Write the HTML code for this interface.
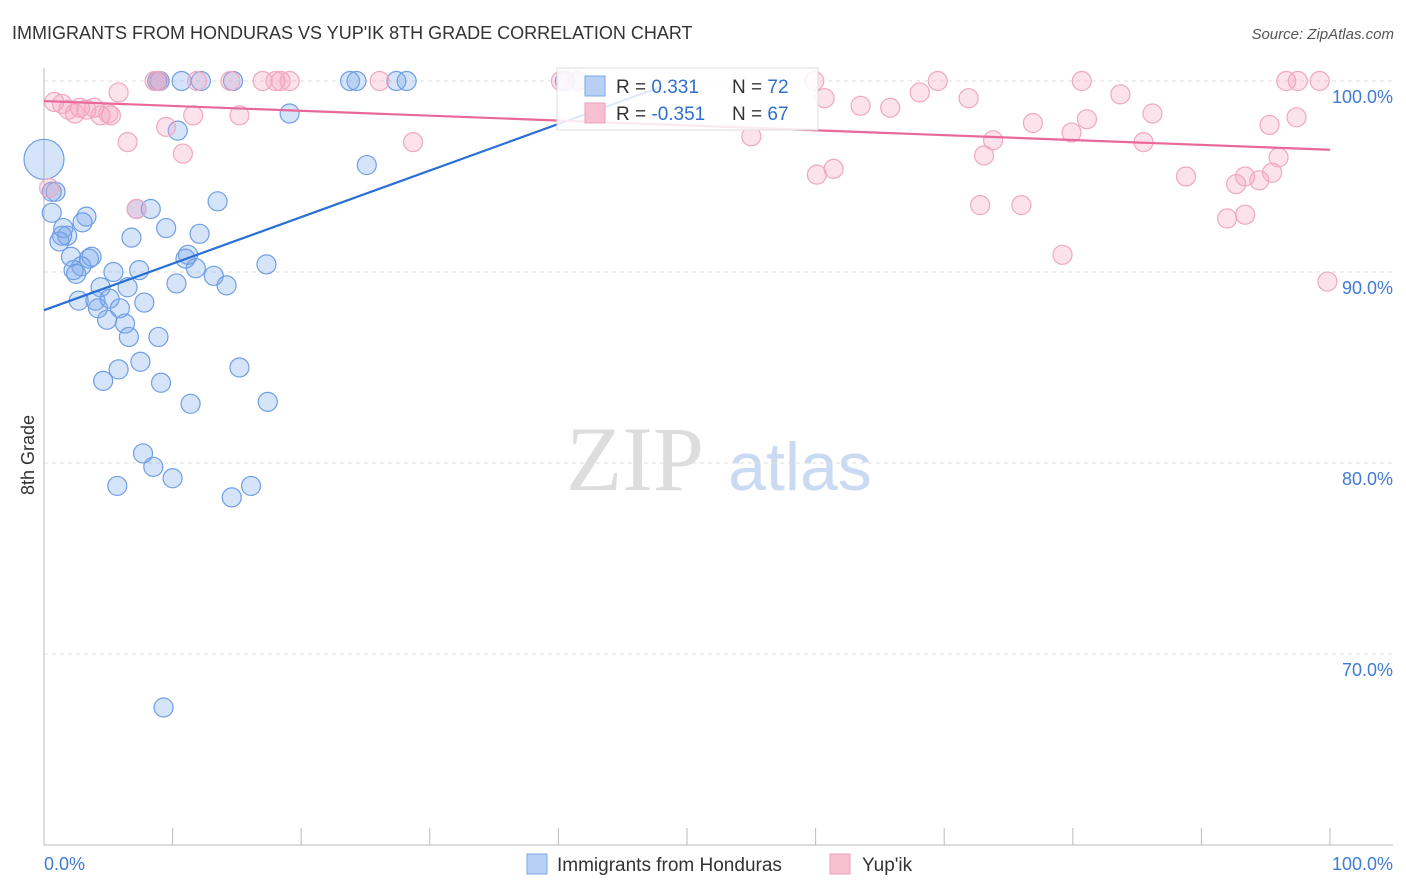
<!DOCTYPE html>
<html><head><meta charset="utf-8">
<style>
body{margin:0;background:#fff;font-family:"Liberation Sans",sans-serif;}
svg{display:block}
</style></head>
<body>
<svg id="chart" width="1406" height="892">
<text x="12" y="39" font-size="18" fill="#333">IMMIGRANTS FROM HONDURAS VS YUP'IK 8TH GRADE CORRELATION CHART</text>
<text x="1394" y="39" font-size="15" fill="#555" font-style="italic" text-anchor="end">Source: ZipAtlas.com</text>
<text x="34" y="455" font-size="18" fill="#333" transform="rotate(-90 34 455)" text-anchor="middle">8th Grade</text>
<g>
<text x="635" y="490" font-size="92" fill="#ddd" font-family="Liberation Serif, serif" text-anchor="middle">ZIP</text>
<text x="800" y="490" font-size="68" fill="#c9daf2" text-anchor="middle">atlas</text>
</g>
<g id="grid"></g>
<g id="axes"></g>
<g id="pts"></g>
<g id="lines"></g>
<g>
<rect x="557" y="68" width="261" height="62" fill="rgba(255,255,255,0.85)" stroke="#ddd"/>
<rect x="585" y="76" width="20" height="20" fill="#b7d0f3" stroke="#7aa7e6"/>
<rect x="585" y="103" width="20" height="20" fill="#f7c0d1" stroke="#eea0b8"/>
<text x="616" y="93" font-size="19" fill="#333">R = <tspan fill="#2f6fd0"> 0.331</tspan><tspan x="732">N = </tspan><tspan fill="#2f6fd0">72</tspan></text>
<text x="616" y="120" font-size="19" fill="#333">R = <tspan fill="#2f6fd0">-0.351</tspan><tspan x="732">N = </tspan><tspan fill="#2f6fd0">67</tspan></text>
</g>
<g>
<rect x="527" y="854" width="20" height="20" fill="#b7d0f3" stroke="#7aa7e6"/>
<text x="557" y="871" font-size="19" fill="#333">Immigrants from Honduras</text>
<rect x="830" y="854" width="20" height="20" fill="#f7c0d1" stroke="#eea0b8"/>
<text x="862" y="871" font-size="19" fill="#333">Yup'ik</text>
</g>
</svg>
<script>
const yTicks=[100,90,80,70];
const yTickLabels=["100.0%","90.0%","80.0%","70.0%"];
const xTicks=[0,10,20,30,40,50,60,70,80,90,100];
const xEndLabels=["0.0%","100.0%"];
const blueX=[0,0.6,0.9,0.6,3.3,3.0,1.5,1.8,1.4,1.2,2.1,3.7,3.5,2.9,2.3,2.5,5.4,7.4,4.4,6.5,2.7,4.0,5.1,4.2,5.9,7.8,4.9,6.3,6.6,8.9,7.5,4.6,5.8,9.1,11.4,15.2,17.4,7.7,8.5,5.7,10.0,14.6,16.1,9.3,10.4,19.1,25.1,13.5,7.2,8.3,6.8,9.5,12.1,11.2,11.0,11.8,13.2,10.3,14.2,17.3,8.8,9.0,10.7,12.2,14.7,23.8,24.3,27.4,28.2,40.5,41.5];
const blueY=[95.9,94.2,94.2,93.1,92.9,92.6,92.3,91.9,91.9,91.6,90.8,90.8,90.7,90.3,90.1,89.9,90.0,90.1,89.2,89.2,88.5,88.5,88.6,88.1,88.1,88.4,87.5,87.3,86.6,86.6,85.3,84.3,84.9,84.2,83.1,85.0,83.2,80.5,79.8,78.8,79.2,78.2,78.8,67.2,97.4,98.3,95.6,93.7,93.3,93.3,91.8,92.3,92.0,90.9,90.7,90.2,89.8,89.4,89.3,90.4,100,100,100,100,100,100,100,100,100,100,100];
const pinkX=[8.6,8.9,11.9,14.5,17.0,18.0,18.4,19.1,26.1,40.2,41.5,5.8,0.8,1.4,1.9,2.8,3.3,3.9,2.4,4.4,5.2,5.0,11.6,15.2,9.5,6.5,10.8,28.7,0.4,7.2,59.9,60.7,63.5,65.8,68.1,69.5,71.9,55.0,60.1,61.4,73.1,73.8,72.8,76.0,76.9,79.9,81.1,80.7,83.7,86.2,85.5,79.2,88.8,92.0,93.4,92.7,93.4,94.5,95.5,96.0,95.3,97.4,96.6,97.5,99.2,99.8];
const pinkY=[100,100,100,100,100,100,100,100,100,100,100,99.4,98.9,98.8,98.5,98.6,98.5,98.6,98.3,98.2,98.2,98.3,98.2,98.2,97.6,96.8,96.2,96.8,94.4,93.3,100,99.1,98.7,98.6,99.4,100,99.1,97.1,95.1,95.4,96.1,96.9,93.5,93.5,97.8,97.3,98.0,100,99.3,98.3,96.8,90.9,95.0,92.8,93.0,94.6,95.0,94.8,95.2,96.0,97.7,98.1,100,100,100,89.5];
const blueTrend=[[0,88.0],[48,99.7]];
const pinkTrend=[[0,98.95],[100,96.4]];
const NS="http://www.w3.org/2000/svg";
const X0=44,X1=1330,YT=81,YB=845;
function sx(v){return X0+(X1-X0)*v/100;}
function sy(v){return YT+(YB-YT)*(100-v)/40;}
function mk(t,a,p){const e=document.createElementNS(NS,t);for(const k in a)e.setAttribute(k,a[k]);p.appendChild(e);return e;}
const grid=document.getElementById('grid'),axes=document.getElementById('axes'),pts=document.getElementById('pts'),lines=document.getElementById('lines');
yTicks.forEach((v,i)=>{
 const l=mk('line',{x1:X0,x2:1393,y1:sy(v),y2:sy(v),stroke:'#ddd','stroke-dasharray':'4 4'},grid);
 
 
 const t=mk('text',{x:1393,y:sy(v)+22,'font-size':18,fill:'#3f7bd6','text-anchor':'end'},axes);
 t.textContent=yTickLabels[i];
 
 
});
const ya=mk('line',{x1:X0,x2:X0,y1:68,y2:YB,stroke:'#bbb'},axes);


const xa=mk('line',{x1:X0,x2:1393,y1:YB,y2:YB,stroke:'#bbb'},axes);


xTicks.forEach(v=>{
 const t=mk('line',{x1:sx(v),x2:sx(v),y1:828,y2:YB,stroke:'#bbb'},axes);
 
 
});
[[0,'start',44],[100,'end',1393]].forEach((d,i)=>{
 const t=mk('text',{x:d[2],y:870,'font-size':18,fill:'#3f7bd6','text-anchor':d[1]},axes);
 t.textContent=xEndLabels[i];
 
 
});
blueX.forEach((v,i)=>{
 const c=mk('circle',{cx:sx(v),cy:sy(blueY[i]),r:i===0?20:9.5,fill:'rgba(120,165,235,0.3)',stroke:'#6f9fe3','stroke-width':1.2},pts);
 
 
});
pinkX.forEach((v,i)=>{
 const c=mk('circle',{cx:sx(v),cy:sy(pinkY[i]),r:9.5,fill:'rgba(245,160,190,0.3)',stroke:'#f0a8c0','stroke-width':1.2},pts);
 
 
});
const bl=mk('line',{x1:sx(blueTrend[0][0]),y1:sy(blueTrend[0][1]),x2:sx(blueTrend[1][0]),y2:sy(blueTrend[1][1]),stroke:'#2a6fd6','stroke-width':2.2},lines);


const pl=mk('line',{x1:sx(pinkTrend[0][0]),y1:sy(pinkTrend[0][1]),x2:sx(pinkTrend[1][0]),y2:sy(pinkTrend[1][1]),stroke:'#e8689a','stroke-width':2.2},lines);


</script>
</body></html>
